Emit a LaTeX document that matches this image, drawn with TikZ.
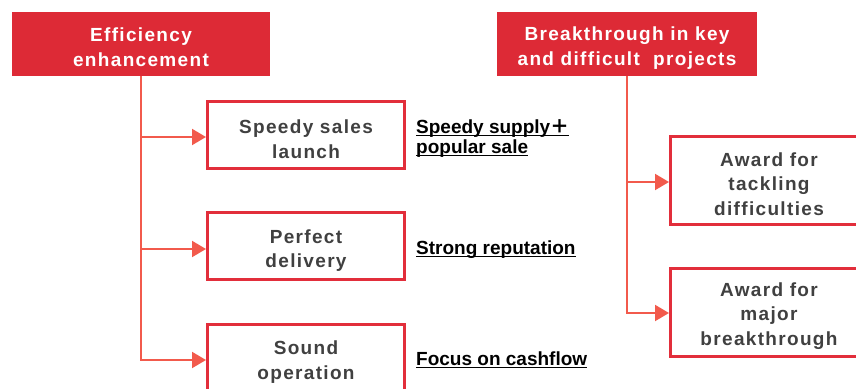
\documentclass[tikz,border=0pt]{standalone}
\usepackage{fontspec}
\setmainfont{Liberation Sans}
\newfontfamily\spaced{Liberation Sans}[LetterSpace=7]
\newfontfamily\cjkfont{Noto Sans CJK SC}
\usetikzlibrary{arrows.meta}
\definecolor{hdrred}{HTML}{DD2A36}
\definecolor{boxred}{HTML}{E22E3B}
\definecolor{linered}{HTML}{F25A4C}
\definecolor{txtgray}{HTML}{404040}
\newcommand\ulline[1]{\setbox0\hbox{#1}\rlap{\rule[-3pt]{\wd0}{1.2pt}}\box0}
\newcommand\pushdown[1]{\rule{0pt}{#1}}
\tikzset{
  header/.style={fill=hdrred, text=white, align=center, inner sep=0pt,
    minimum height=64pt, font=\spaced\bfseries\fontsize{19}{25}\selectfont},
  itembox/.style={draw=boxred, line width=3pt, fill=white, text=txtgray, align=center,
    inner sep=0pt, minimum width=197pt, font=\spaced\bfseries\fontsize{19}{24.5}\selectfont},
  conn/.style={draw=linered, line width=2pt, -{Triangle[length=14pt,width=16pt]}},
  lab/.style={anchor=base west, inner sep=0pt, font=\bfseries\fontsize{19}{19}\selectfont}
}
\begin{document}
\begin{tikzpicture}[x=1pt,y=-1pt]
\useasboundingbox (0,0) rectangle (856,388);
% headers
\node[header, minimum width=258pt] (h1) at (141,44) {\pushdown{21pt}Efficiency\\enhancement};
\node[header, minimum width=260pt] (h2) at (627,44) {\pushdown{21pt}Breakthrough in key\\and difficult~ projects};
% left boxes
\node[itembox, minimum height=67pt] (b1) at (306,135) {\pushdown{22pt}Speedy sales\\launch};
\node[itembox, minimum height=67pt] (b2) at (306,246) {\pushdown{23pt}Perfect\\delivery};
\node[itembox, minimum height=67pt] (b3) at (306,358) {\pushdown{22pt}Sound\\operation};
% right boxes
\node[itembox, minimum height=88pt] (r1) at (769,180.5) {\pushdown{21pt}Award for\\tackling\\difficulties};
\node[itembox, minimum height=88pt] (r2) at (769,312.5) {\pushdown{21pt}Award for\\major\\breakthrough};
% connectors
\draw[conn] (h1.south) |- ([yshift=-2pt]b1.west);
\draw[conn] (h1.south) |- ([yshift=-3pt]b2.west);
\draw[conn] (h1.south) |- ([yshift=-2pt]b3.west);
\draw[conn] (h2.south) |- ([yshift=-1.5pt]r1.west);
\draw[conn] (h2.south) |- ([yshift=-0.5pt]r2.west);
% labels
\node[lab] (l1a) at (416,133) {\ulline{Speedy supply{\cjkfont ＋}}};
\node[lab] (l1b) at (416,153) {\ulline{popular sale}};
\node[lab] (l2) at (416,254) {\ulline{Strong reputation}};
\node[lab] (l3) at (416,365) {\ulline{Focus on cashflow}};
\end{tikzpicture}
\end{document}
